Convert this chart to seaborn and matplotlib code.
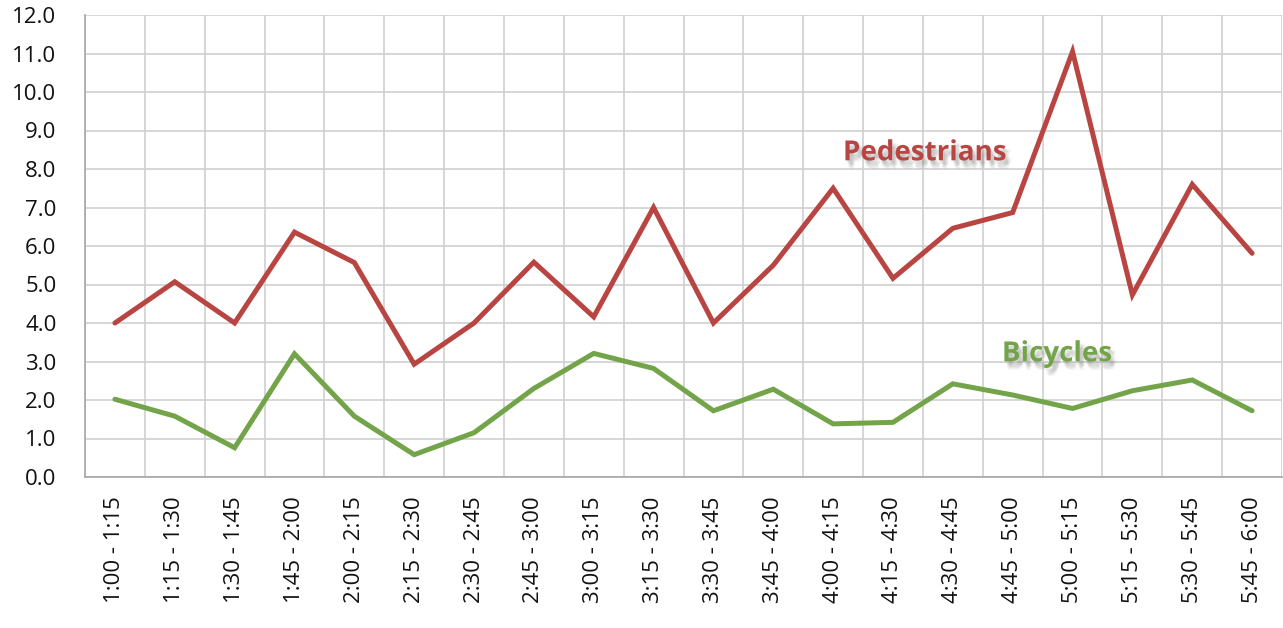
import numpy as np
import pandas as pd
import matplotlib
matplotlib.use("Agg")
import matplotlib.pyplot as plt
import matplotlib.patheffects as pe
from matplotlib.ticker import FixedLocator, MultipleLocator, FormatStrFormatter
import seaborn as sns

# 15-minute count intervals
intervals = [
    "1:00 - 1:15", "1:15 - 1:30", "1:30 - 1:45", "1:45 - 2:00", "2:00 - 2:15",
    "2:15 - 2:30", "2:30 - 2:45", "2:45 - 3:00", "3:00 - 3:15", "3:15 - 3:30",
    "3:30 - 3:45", "3:45 - 4:00", "4:00 - 4:15", "4:15 - 4:30", "4:30 - 4:45",
    "4:45 - 5:00", "5:00 - 5:15", "5:15 - 5:30", "5:30 - 5:45", "5:45 - 6:00",
]
pedestrians = [4.0, 5.07, 4.0, 6.36, 5.57, 2.93, 4.0, 5.58, 4.16, 7.0,
               4.0, 5.5, 7.5, 5.16, 6.46, 6.87, 11.05, 4.73, 7.6, 5.81]
bicycles = [2.02, 1.58, 0.76, 3.2, 1.58, 0.58, 1.15, 2.3, 3.21, 2.82,
            1.72, 2.28, 1.38, 1.42, 2.42, 2.13, 1.78, 2.24, 2.52, 1.72]

series_names = ["Pedestrians", "Bicycles"]
series_colors = {"Pedestrians": "#b94542", "Bicycles": "#73a44a"}

df = pd.DataFrame({
    "slot": list(range(len(intervals))) * 2,
    "value": pedestrians + bicycles,
    "series": ["Pedestrians"] * len(intervals) + ["Bicycles"] * len(intervals),
})

sns.set_style("white")
plt.rcParams["font.family"] = ["Open Sans", "DejaVu Sans"]

fig = plt.figure(figsize=(12.83, 6.28), dpi=100)
ax = fig.add_axes([85 / 1283, 1 - 477 / 628, 1197 / 1283, 462 / 628])

sns.lineplot(data=df, x="slot", y="value", hue="series", hue_order=series_names,
             palette=series_colors, linewidth=3.6, legend=False, ax=ax,
             solid_capstyle="round", solid_joinstyle="miter")

n = len(intervals)
ax.set_xlim(-0.5, n - 0.5)
ax.set_ylim(0, 12)

# Category labels centred between boundary gridlines
ax.xaxis.set_major_locator(FixedLocator(np.arange(n)))
ax.set_xticklabels(intervals, rotation=90, fontsize=16, color="#111111")
ax.xaxis.set_minor_locator(FixedLocator(np.arange(n + 1) - 0.5))
ax.tick_params(axis="x", which="major", length=0, pad=14)
ax.tick_params(axis="x", which="minor", length=7, width=1.0, color="#a6a6a6", direction="out")

ax.yaxis.set_major_locator(MultipleLocator(1.0))
ax.yaxis.set_major_formatter(FormatStrFormatter("%.1f"))
ax.tick_params(axis="y", which="major", length=6.5, width=1.0, color="#a6a6a6",
               labelsize=16, labelcolor="#111111", pad=14)

ax.grid(True, axis="y", which="major", color="#cfcfcf", linewidth=1.2)
ax.grid(True, axis="x", which="minor", color="#cfcfcf", linewidth=1.2)
ax.grid(False, axis="x", which="major")
ax.set_axisbelow(True)

for side in ["top", "right"]:
    ax.spines[side].set_visible(False)
for side in ["left", "bottom"]:
    ax.spines[side].set_color("#a6a6a6")
    ax.spines[side].set_linewidth(1.2)

ax.set_xlabel("")
ax.set_ylabel("")

# Soft drop shadow built from a few faint offset copies
shadow = [pe.SimplePatchShadow(offset=off, shadow_rgbFace="#808080", alpha=0.10)
          for off in [(1, -2), (2, -3), (3, -4), (2, -5), (4, -3), (3, -6)]] + [pe.Normal()]
ax.text(13.53, 8.42, "Pedestrians", color=series_colors["Pedestrians"], fontsize=20,
        fontweight="bold", ha="center", va="center", path_effects=shadow)
ax.text(15.74, 3.2, "Bicycles", color=series_colors["Bicycles"], fontsize=20,
        fontweight="bold", ha="center", va="center", path_effects=shadow)

fig.savefig("out.png", dpi=100)
